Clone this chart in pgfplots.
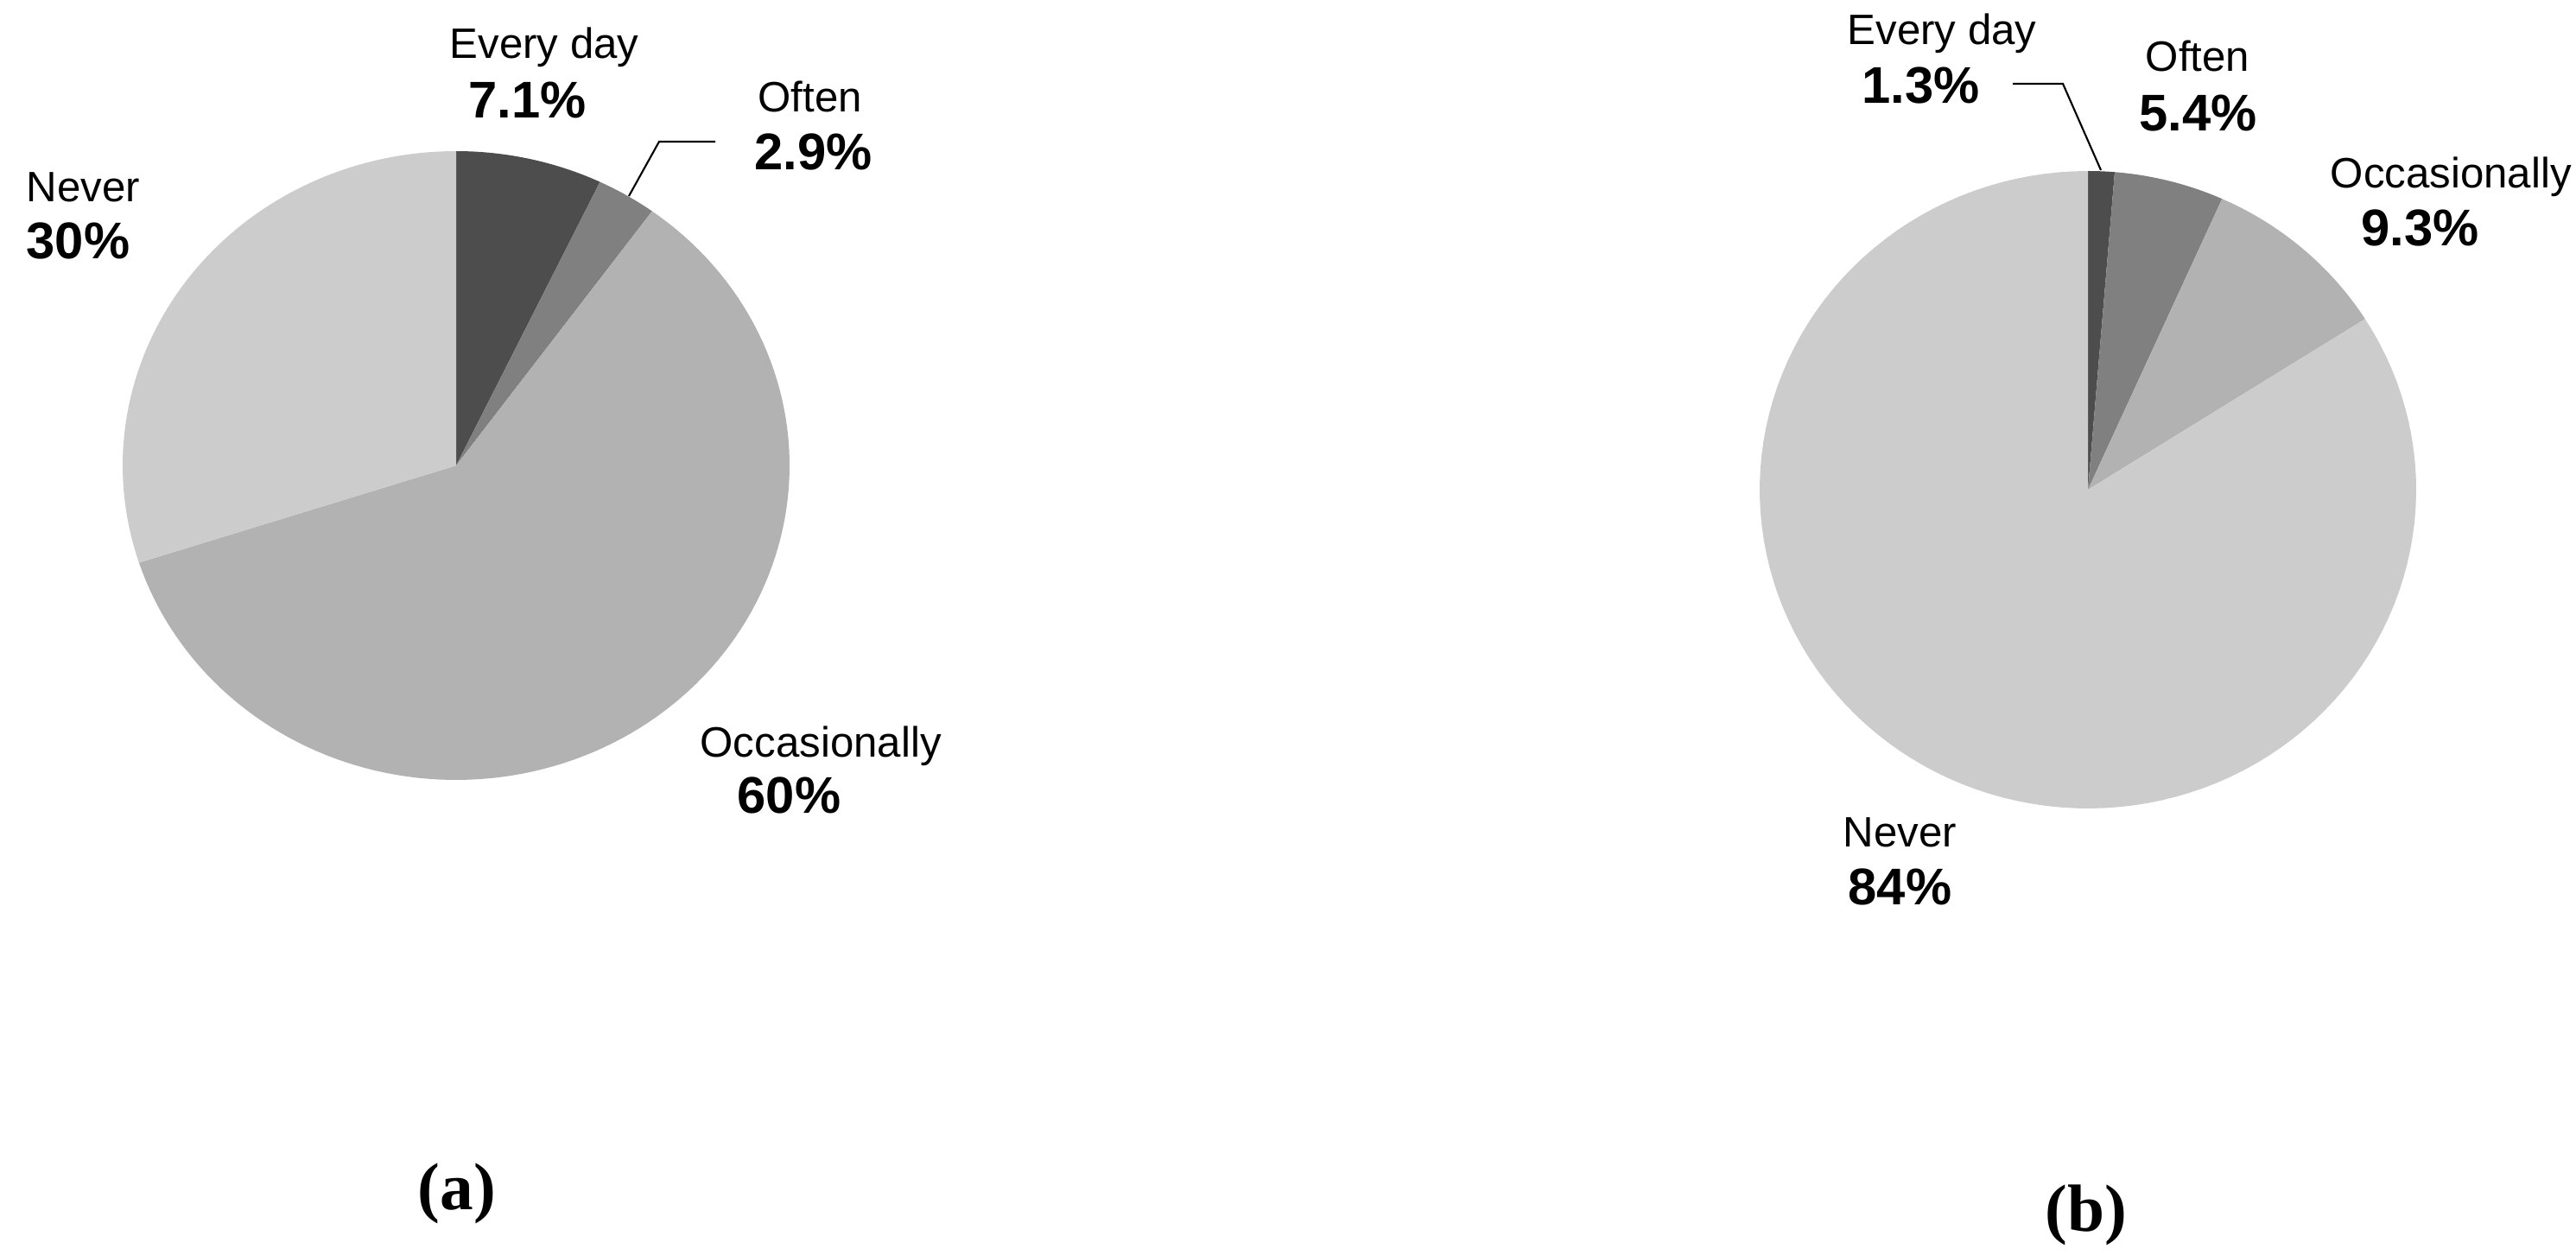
\documentclass[border=0pt]{standalone}
\usepackage{pgfplots}
\pgfplotsset{compat=1.18}
\usepackage{fontspec}
\setmainfont{Liberation Sans}
\newfontfamily\capfont{Liberation Serif}
\definecolor{cEvery}{HTML}{4D4D4D}
\definecolor{cOften}{HTML}{808080}
\definecolor{cOcc}{HTML}{B2B2B2}
\definecolor{cNever}{HTML}{CCCCCC}
% slice: centre x, centre y, radius x, radius y, cumulative % before, % of slice, colour
\newcommand{\pieslice}[7]{%
  \addplot[fill=#7, draw=none, domain={90-3.6*(#5+#6)}:{90-3.6*#5}, samples=120]
    ({#1+#3*cos(x)},{#2-#4*sin(x)}) -- (axis cs:#1,#2) -- cycle;
}
\newcommand{\lname}[3]{\node[anchor=base west, inner sep=0pt, font=\fontsize{14}{16}\selectfont] at (axis cs:#1,#2) {#3};}
\newcommand{\lval}[3]{\node[anchor=base west, inner sep=0pt, font=\fontsize{17}{19}\selectfont\bfseries] at (axis cs:#1,#2) {#3};}
\begin{document}
\begin{tikzpicture}
\path[use as bounding box] (0,0) rectangle (29.82cm,14.53cm);
\begin{axis}[at={(0,0)}, anchor=south west, width=29.82cm, height=14.53cm, scale only axis,
  xmin=0, xmax=2982, ymin=0, ymax=1453, y dir=reverse, hide axis, clip=false]
% (a): Every day 7.1, Often 2.9, Occasionally 60, Never 30
\pieslice{528}{539}{386}{364}{0}{7.1}{cEvery}
\pieslice{528}{539}{386}{364}{7.1}{2.9}{cOften}
\pieslice{528}{539}{386}{364}{10}{60}{cOcc}
\pieslice{528}{539}{386}{364}{70}{30}{cNever}
% (b): Every day 1.3, Often 5.4, Occasionally 9.3, Never 84
\pieslice{2417}{567}{380}{369}{0}{1.3}{cEvery}
\pieslice{2417}{567}{380}{369}{1.3}{5.4}{cOften}
\pieslice{2417}{567}{380}{369}{6.7}{9.3}{cOcc}
\pieslice{2417}{567}{380}{369}{16}{84}{cNever}
% leader lines
\addplot[black, line width=0.6pt] coordinates {(728,227) (763,164) (828,164)};
\addplot[black, line width=0.6pt] coordinates {(2432,197) (2388,97) (2330,97)};
% labels (a)
\lname{520}{68}{Every day}
\lval{542}{137}{7.1\%}
\lname{877}{130}{Often}
\lval{873}{197}{2.9\%}
\lname{30}{234}{Never}
\lval{30}{300}{30\%}
\lname{810}{877}{Occasionally}
\lval{853}{942}{60\%}
% labels (b)
\lname{2138}{52}{Every day}
\lval{2155}{120}{1.3\%}
\lname{2483}{83}{Often}
\lval{2476}{152}{5.4\%}
\lname{2697}{218}{Occasionally}
\lval{2733}{285}{9.3\%}
\lname{2133}{980}{Never}
\lval{2139}{1047}{84\%}
% panel captions
\node[anchor=base west, inner sep=0pt, font=\capfont\bfseries\fontsize{22}{24}\selectfont] at (axis cs:483,1400) {(a)};
\node[anchor=base west, inner sep=0pt, font=\capfont\bfseries\fontsize{22}{24}\selectfont] at (axis cs:2367,1425) {(b)};
\end{axis}
\end{tikzpicture}
\end{document}
